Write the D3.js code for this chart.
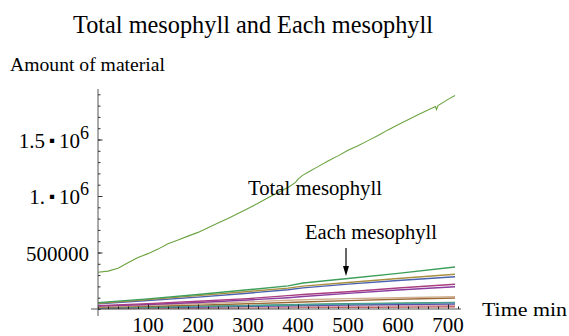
<!DOCTYPE html>
<html>
<head>
<meta charset="utf-8">
<script src="https://cdn.jsdelivr.net/npm/d3@7"></script>
</head>
<body style="margin:0">
<script>
// Chart size
const width = 569;
const height = 336;

// Total mesophyll: time (min) and amount
const totalTimes = [0, 20, 40, 60, 80, 100, 120, 140, 160, 180, 200, 220, 240, 260, 280, 300, 320, 340,
  360, 380, 395, 400, 410, 420, 440, 460, 480, 500, 520, 540, 560, 580, 600, 620, 640, 660, 675, 677, 680, 700, 714];
const totalValues = [325000, 335000, 360000, 410000, 455000, 490000, 530000, 578000, 610000, 645000, 678000,
  720000, 762000, 800000, 845000, 890000, 935000, 985000, 1030000, 1075000, 1120000, 1150000, 1185000, 1210000,
  1260000, 1310000, 1355000, 1405000, 1445000, 1490000, 1535000, 1585000, 1630000, 1675000, 1720000, 1760000,
  1792000, 1765000, 1800000, 1855000, 1890000];

// Each mesophyll cell: common sample times
const cellTimes = [0, 100, 200, 300, 380, 410, 500, 600, 714];
const cellGreen   = [56000, 90000, 128000, 170000, 205000, 230000, 270000, 315000, 372000];
const cellOlive   = [50000, 83000, 118000, 155000, 185000, 202000, 235000, 270000, 307000];
const cellBlue    = [45000, 75000, 105000, 140000, 170000, 187000, 220000, 252000, 286000];
const cellMagenta = [30000, 48000, 68000, 92000, 118000, 128000, 153000, 186000, 219000];
const cellPurple  = [25000, 40000, 58000, 80000, 100000, 110000, 138000, 168000, 197000];
const cellTan     = [20000, 33000, 47000, 63000, 78000, 82000, 92000, 100000, 108000];
const cellBrown   = [15000, 24000, 34000, 46000, 58000, 62000, 74000, 86000, 98000];
const cellTeal    = [12000, 18000, 24000, 30000, 36000, 38000, 44000, 50000, 56000];
const cellDkGreen = [10000, 16000, 23000, 30000, 37000, 40000, 46000, 52000, 59000];
const cellIndigo  = [8000, 13000, 18000, 24000, 29000, 31000, 36000, 40000, 44000];
const cellPink    = [6000, 9000, 12000, 15000, 18000, 19000, 22000, 26000, 30000];
const cellRed     = [5000, 7000, 9000, 11000, 13000, 14000, 16000, 18000, 20000];

const cells = [
  { values: cellRed, color: "#b85a5a" },
  { values: cellPink, color: "#d9a0a8" },
  { values: cellIndigo, color: "#5a50b0" },
  { values: cellDkGreen, color: "#3f8f4a" },
  { values: cellTeal, color: "#4aa0a0" },
  { values: cellBrown, color: "#9a6a35" },
  { values: cellTan, color: "#d0b090" },
  { values: cellPurple, color: "#8a3d9e" },
  { values: cellMagenta, color: "#a83d80" },
  { values: cellBlue, color: "#4a62b0" },
  { values: cellOlive, color: "#a89040" },
  { values: cellGreen, color: "#3d9e5a" }
];

// Tick values
const xTicks = [100, 200, 300, 400, 500, 600, 700];
const xMinor = d3.range(0, 721, 20);
const yTicks = [500000, 1000000, 1500000];
const yMinor = d3.range(0, 1900001, 100000);

const x = d3.scaleLinear().domain([0, 700]).range([98, 448]);
const y = d3.scaleLinear().domain([0, 1500000]).range([309, 139.5]);

const fontName = "Liberation Serif";

const svg = d3.select("body").append("svg")
  .attr("width", width)
  .attr("height", height)
  .attr("font-family", fontName);

function label(xp, yp, size, str, len) {
  const t = svg.append("text").attr("x", xp).attr("y", yp)
    .attr("font-size", size)
    .style("font-family", `"${fontName}"`)
    .text(str);
  if (len) t.attr("textLength", len).attr("lengthAdjust", "spacingAndGlyphs");
  return t;
}

// Title and axis labels
label(73, 33, 25, "Total mesophyll and Each mesophyll", 360);
label(10, 71, 18, "Amount  of material", 155);
label(482, 316, 19, "Time   min", 85);

// Lines
const line = d3.line().x(d => x(d[0])).y(d => y(d[1]));

cells.forEach(c => {
  svg.append("path")
    .datum(cellTimes.map((t, i) => [t, c.values[i]]))
    .attr("d", line)
    .attr("fill", "none")
    .attr("stroke", c.color)
    .attr("stroke-width", 1.4);
});

svg.append("path")
  .datum(totalTimes.map((t, i) => [t, totalValues[i]]))
  .attr("d", line)
  .attr("fill", "none")
  .attr("stroke", "#6aa33f")
  .attr("stroke-width", 1.1);

// Axes
const axisColor = "#555";
const xAxis = svg.append("g").attr("transform", `translate(0,${y(0)})`);
xAxis.append("line").attr("x1", 91).attr("x2", 461).attr("stroke", axisColor);
xAxis.call(g => g.append("g").call(d3.axisBottom(x).tickValues(xMinor).tickSize(-2.5).tickFormat("")));
xAxis.call(g => g.append("g").call(d3.axisBottom(x).tickValues(xTicks).tickSize(-4.5).tickFormat("")));
xAxis.selectAll(".domain").remove();
xAxis.selectAll(".tick line").attr("stroke", "#222");

const yAxis = svg.append("g").attr("transform", `translate(${x(0)},0)`);
yAxis.append("line").attr("y1", 89).attr("y2", 316).attr("stroke", axisColor);
yAxis.call(g => g.append("g").call(d3.axisLeft(y).tickValues(yMinor).tickSize(-2.5).tickFormat("")));
yAxis.call(g => g.append("g").call(d3.axisLeft(y).tickValues(yTicks).tickSize(-4.5).tickFormat("")));
yAxis.selectAll(".domain").remove();
yAxis.selectAll(".tick line").attr("stroke", "#333");

// X tick labels
xTicks.forEach(v => {
  label(x(v), 332, 21, String(v)).attr("text-anchor", "middle");
});

// Y tick labels in Mathematica style
yTicks.forEach(v => {
  const t = label(89, y(v) + 8, 21, "").attr("text-anchor", "end");
  if (v >= 1000000) {
    const m = v / 1000000;
    t.append("tspan").text(Number.isInteger(m) ? m + "." : String(m));
    t.append("tspan").attr("font-size", 17).attr("dx", 4).attr("dy", -2).text("\u25AA");
    t.append("tspan").attr("dx", 4).attr("dy", 2).text("10");
    t.append("tspan").attr("font-size", 18).attr("dy", -9).text("6");
  } else {
    t.text(v);
  }
});

// Annotations
label(248, 195, 20, "Total mesophyll", 134);
label(305, 239, 20, "Each mesophyll", 132);

svg.append("line").attr("x1", x(496)).attr("x2", x(496)).attr("y1", 248).attr("y2", 268)
  .attr("stroke", "#000").attr("stroke-width", 1.2);
svg.append("path")
  .attr("d", `M${x(496) - 3},266 L${x(496) + 3},266 L${x(496)},276 Z`)
  .attr("fill", "#000");
</script>
</body>
</html>
